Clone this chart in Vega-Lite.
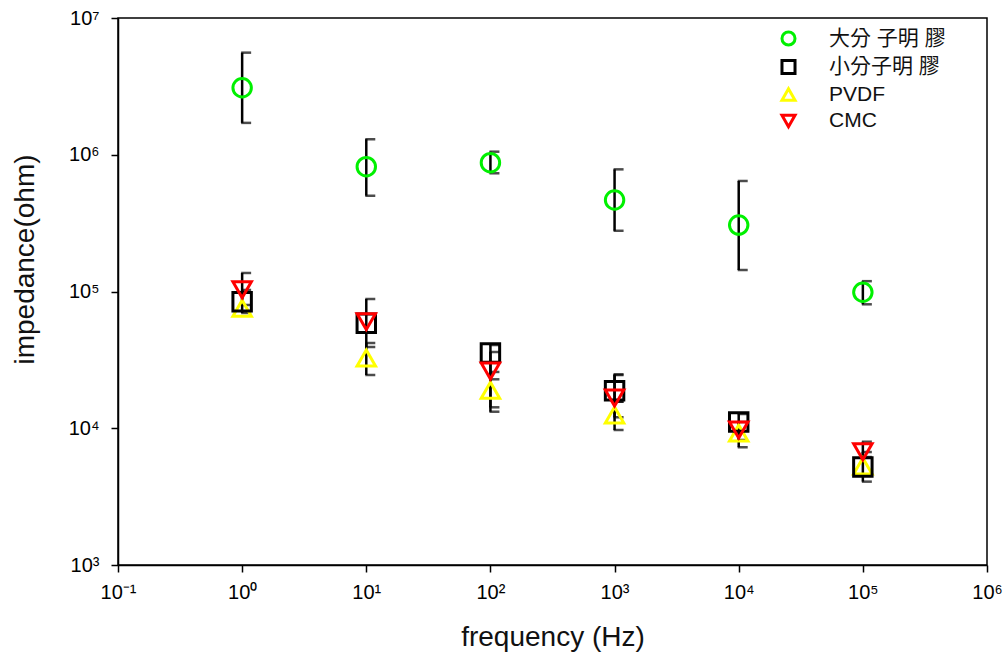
{
  "$schema": "https://vega.github.io/schema/vega-lite/v6.json",
  "width": 869,
  "height": 547,
  "autosize": {"type": "none"},
  "padding": {"left": 118, "top": 18, "right": 21, "bottom": 94},
  "background": "white",
  "config": {
    "view": {"stroke": "black", "strokeWidth": 1.5},
    "axis": {
      "grid": false,
      "domainColor": "black",
      "domainWidth": 1.5,
      "tickColor": "black",
      "tickWidth": 1.5,
      "tickSize": 7,
      "labelFont": "Liberation Sans",
      "labelFontSize": 20,
      "labelColor": "black",
      "labelOverlap": false,
      "labelFlush": false,
      "labelBound": false,
      "titleFont": "Liberation Sans",
      "titleFontWeight": "normal",
      "titleColor": "#111111"
    },
    "legend": {
      "orient": "none",
      "legendX": 660,
      "legendY": 10,
      "padding": 0,
      "labelFont": "Liberation Sans, Noto Sans CJK TC",
      "labelFontSize": 21,
      "labelColor": "#111111",
      "labelOffset": 30,
      "rowPadding": 1.5,
      "symbolSize": 170,
      "symbolStrokeWidth": 3,
      "symbolFillColor": "transparent"
    }
  },
  "data": {
    "values": [
      {"series": "大分 子明 膠", "freq": 1, "z": 3090000, "lo": 1710000, "hi": 5580000},
      {"series": "大分 子明 膠", "freq": 10, "z": 818000, "lo": 502000, "hi": 1300000},
      {"series": "大分 子明 膠", "freq": 100, "z": 875000, "lo": 732000, "hi": 1053000},
      {"series": "大分 子明 膠", "freq": 1000, "z": 467000, "lo": 278000, "hi": 782000},
      {"series": "大分 子明 膠", "freq": 10000, "z": 306000, "lo": 143600, "hi": 643000},
      {"series": "大分 子明 膠", "freq": 100000, "z": 98700, "lo": 80600, "hi": 119000},
      {"series": "PVDF", "freq": 1, "z": 75400, "lo": null, "hi": null},
      {"series": "PVDF", "freq": 10, "z": 32600, "lo": 24500, "hi": 42000},
      {"series": "PVDF", "freq": 100, "z": 18940, "lo": 13210, "hi": 25800},
      {"series": "PVDF", "freq": 1000, "z": 12500, "lo": 9710, "hi": 15640},
      {"series": "PVDF", "freq": 10000, "z": 9230, "lo": 7260, "hi": 11110},
      {"series": "PVDF", "freq": 100000, "z": 5300, "lo": null, "hi": null},
      {"series": "小分子明 膠", "freq": 1, "z": 84200, "lo": 69600, "hi": 102600},
      {"series": "小分子明 膠", "freq": 10, "z": 58600, "lo": 39300, "hi": 88200},
      {"series": "小分子明 膠", "freq": 100, "z": 35500, "lo": 14230, "hi": 40600},
      {"series": "小分子明 膠", "freq": 1000, "z": 18800, "lo": 15640, "hi": 24800},
      {"series": "小分子明 膠", "freq": 10000, "z": 11100, "lo": 8210, "hi": 12710},
      {"series": "小分子明 膠", "freq": 100000, "z": 5210, "lo": 4070, "hi": 6700},
      {"series": "CMC", "freq": 1, "z": 103100, "lo": 79700, "hi": 136600},
      {"series": "CMC", "freq": 10, "z": 60200, "lo": null, "hi": null},
      {"series": "CMC", "freq": 100, "z": 26200, "lo": 22800, "hi": 36100},
      {"series": "CMC", "freq": 1000, "z": 16650, "lo": 12030, "hi": 24500},
      {"series": "CMC", "freq": 10000, "z": 9710, "lo": null, "hi": null},
      {"series": "CMC", "freq": 100000, "z": 6740, "lo": 6160, "hi": 7970}
    ]
  },
  "encoding": {
    "x": {
      "field": "freq",
      "type": "quantitative",
      "scale": {"type": "log", "domain": [0.1, 1000000], "nice": false},
      "axis": {
        "title": "frequency (Hz)",
        "titleFontSize": 28,
        "titlePadding": 21,
        "labelPadding": 10,
        "values": [0.1, 1, 10, 100, 1000, 10000, 100000, 1000000],
        "labelExpr": "round(log(datum.value)/LN10) < 0 ? '10⁻' + substring('⁰¹²³⁴⁵⁶⁷⁸⁹', -round(log(datum.value)/LN10), 1 - round(log(datum.value)/LN10)) : '10' + substring('⁰¹²³⁴⁵⁶⁷⁸⁹', round(log(datum.value)/LN10), 1 + round(log(datum.value)/LN10))"
      }
    }
  },
  "layer": [
    {
      "transform": [{"filter": "datum.lo != null"}],
      "mark": {"type": "rule", "color": "black", "strokeWidth": 2.5},
      "encoding": {
        "y": {
          "field": "lo",
          "type": "quantitative",
          "scale": {"type": "log", "domain": [1000, 10000000], "nice": false},
          "axis": {
            "title": "impedance(ohm)",
            "titleFontSize": 28,
            "titleX": -93,
            "titleY": 241,
            "titleAlign": "center",
            "titleBaseline": "middle",
            "labelPadding": 12,
            "values": [1000, 10000, 100000, 1000000, 10000000],
            "labelExpr": "'10' + substring('⁰¹²³⁴⁵⁶⁷⁸⁹', round(log(datum.value)/LN10), 1 + round(log(datum.value)/LN10))"
          }
        },
        "y2": {"field": "hi"}
      }
    },
    {
      "transform": [{"filter": "datum.lo != null"}],
      "mark": {"type": "tick", "orient": "horizontal", "color": "black", "thickness": 2.5, "size": 10, "xOffset": 4},
      "encoding": {"y": {"field": "hi", "type": "quantitative"}}
    },
    {
      "transform": [{"filter": "datum.lo != null"}],
      "mark": {"type": "tick", "orient": "horizontal", "color": "black", "thickness": 2.5, "size": 10, "xOffset": 4},
      "encoding": {"y": {"field": "lo", "type": "quantitative"}}
    },
    {
      "mark": {"type": "point", "filled": false, "strokeWidth": 3, "opacity": 1, "size": 340},
      "encoding": {
        "y": {"field": "z", "type": "quantitative"},
        "shape": {
          "field": "series",
          "type": "nominal",
          "scale": {
            "domain": ["大分 子明 膠", "小分子明 膠", "PVDF", "CMC"],
            "range": ["circle", "square", "triangle-up", "triangle-down"]
          },
          "legend": {"title": null}
        },
        "color": {
          "field": "series",
          "type": "nominal",
          "scale": {
            "domain": ["大分 子明 膠", "小分子明 膠", "PVDF", "CMC"],
            "range": ["#00f000", "#000000", "#ffff00", "#ff0000"]
          },
          "legend": {"title": null}
        }
      }
    }
  ]
}
